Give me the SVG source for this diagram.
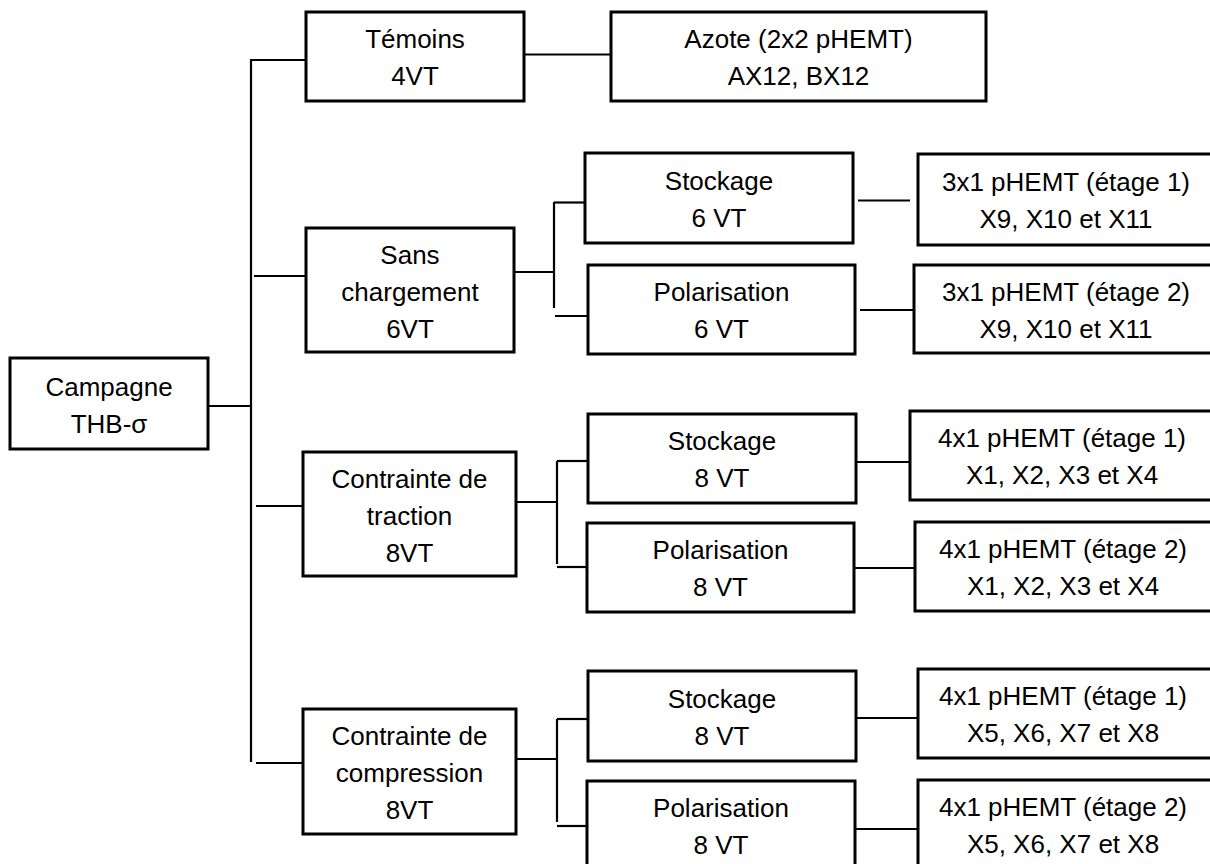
<svg xmlns="http://www.w3.org/2000/svg" width="1210" height="864" viewBox="0 0 1210 864">
<style>
.box{fill:#fff;stroke:#000;stroke-width:3}
.t{font-family:"Liberation Sans",Arial,sans-serif;font-size:26px;fill:#000;text-anchor:middle}
.c{stroke:#000;stroke-width:2.2;fill:none}
</style>
<rect width="1210" height="864" fill="#fff"/>
<g id="connectors">
<line class="c" x1="251" y1="59" x2="251" y2="762"/>
<line class="c" x1="208" y1="406" x2="251" y2="406"/>
<line class="c" x1="251" y1="60" x2="306" y2="60"/>
<line class="c" x1="254" y1="276" x2="306" y2="276"/>
<line class="c" x1="256" y1="506" x2="303" y2="506"/>
<line class="c" x1="256" y1="763" x2="303" y2="763"/>
<line class="c" x1="524" y1="54.5" x2="611" y2="54.5"/>
<line class="c" x1="514" y1="272" x2="554" y2="272"/>
<line class="c" x1="554" y1="202" x2="554" y2="308"/>
<line class="c" x1="554" y1="202.5" x2="585" y2="202.5"/>
<line class="c" x1="555" y1="316" x2="588" y2="316"/>
<line class="c" x1="858" y1="200.5" x2="910" y2="200.5"/>
<line class="c" x1="860" y1="310" x2="913" y2="310"/>
<line class="c" x1="516" y1="502" x2="557" y2="502"/>
<line class="c" x1="557" y1="461" x2="557" y2="564"/>
<line class="c" x1="557" y1="461" x2="588" y2="461"/>
<line class="c" x1="557" y1="567" x2="587" y2="567"/>
<line class="c" x1="856" y1="462" x2="919" y2="462"/>
<line class="c" x1="854" y1="568" x2="919" y2="568"/>
<line class="c" x1="516" y1="759" x2="557" y2="759"/>
<line class="c" x1="557" y1="719" x2="557" y2="822"/>
<line class="c" x1="557" y1="719" x2="588" y2="719"/>
<line class="c" x1="557" y1="826" x2="587" y2="826"/>
<line class="c" x1="856" y1="718" x2="918" y2="718"/>
<line class="c" x1="855" y1="829" x2="921" y2="829"/>
</g>
<g id="campagne"><rect class="box" x="10" y="358" width="198" height="91"/>
<text class="t" x="109" y="396">Campagne</text><text class="t" x="109" y="433">THB-σ</text></g>
<g id="temoins"><rect class="box" x="306" y="12" width="218" height="89"/>
<text class="t" x="415" y="48">Témoins</text><text class="t" x="415" y="85">4VT</text></g>
<g id="azote"><rect class="box" x="611" y="12" width="375" height="89"/>
<text class="t" x="798.5" y="48">Azote (2x2 pHEMT)</text><text class="t" x="798.5" y="85">AX12, BX12</text></g>
<g id="sans"><rect class="box" x="306" y="228" width="208" height="124"/>
<text class="t" x="410" y="264">Sans</text><text class="t" x="410" y="301">chargement</text><text class="t" x="410" y="338">6VT</text></g>
<g id="stockage1"><rect class="box" x="585" y="153" width="268" height="90"/>
<text class="t" x="719" y="190">Stockage</text><text class="t" x="719" y="227">6 VT</text></g>
<g id="polarisation1"><rect class="box" x="588" y="265" width="267" height="89"/>
<text class="t" x="721.5" y="301">Polarisation</text><text class="t" x="721.5" y="338">6 VT</text></g>
<g id="phemt1"><rect class="box" x="918" y="154" width="298" height="91"/>
<text class="t" x="1066" y="191">3x1 pHEMT (étage 1)</text><text class="t" x="1066" y="228">X9, X10 et X11</text></g>
<g id="phemt2"><rect class="box" x="914" y="265" width="304" height="88"/>
<text class="t" x="1066" y="301">3x1 pHEMT (étage 2)</text><text class="t" x="1066" y="338">X9, X10 et X11</text></g>
<g id="traction"><rect class="box" x="303" y="452" width="213" height="124"/>
<text class="t" x="409.5" y="488">Contrainte de</text><text class="t" x="409.5" y="525">traction</text><text class="t" x="409.5" y="562">8VT</text></g>
<g id="stockage2"><rect class="box" x="588" y="414" width="268" height="89"/>
<text class="t" x="722" y="450">Stockage</text><text class="t" x="722" y="487">8 VT</text></g>
<g id="polarisation2"><rect class="box" x="587" y="523" width="267" height="89"/>
<text class="t" x="720.5" y="559">Polarisation</text><text class="t" x="720.5" y="596">8 VT</text></g>
<g id="phemt3"><rect class="box" x="910" y="411" width="304" height="89"/>
<text class="t" x="1062" y="447">4x1 pHEMT (étage 1)</text><text class="t" x="1062" y="484">X1, X2, X3 et X4</text></g>
<g id="phemt4"><rect class="box" x="915" y="522" width="298" height="89"/>
<text class="t" x="1063" y="558">4x1 pHEMT (étage 2)</text><text class="t" x="1063" y="595">X1, X2, X3 et X4</text></g>
<g id="compression"><rect class="box" x="303" y="709" width="213" height="125"/>
<text class="t" x="409.5" y="745">Contrainte de</text><text class="t" x="409.5" y="782">compression</text><text class="t" x="409.5" y="819">8VT</text></g>
<g id="stockage3"><rect class="box" x="588" y="671" width="268" height="90"/>
<text class="t" x="722" y="708">Stockage</text><text class="t" x="722" y="745">8 VT</text></g>
<g id="polarisation3"><rect class="box" x="587" y="781" width="268" height="90"/>
<text class="t" x="721" y="817">Polarisation</text><text class="t" x="721" y="854">8 VT</text></g>
<g id="phemt5"><rect class="box" x="918" y="669" width="298" height="89"/>
<text class="t" x="1063" y="705">4x1 pHEMT (étage 1)</text><text class="t" x="1063" y="742">X5, X6, X7 et X8</text></g>
<g id="phemt6"><rect class="box" x="918" y="780" width="298" height="90"/>
<text class="t" x="1063" y="816">4x1 pHEMT (étage 2)</text><text class="t" x="1063" y="853">X5, X6, X7 et X8</text></g>
</svg>
